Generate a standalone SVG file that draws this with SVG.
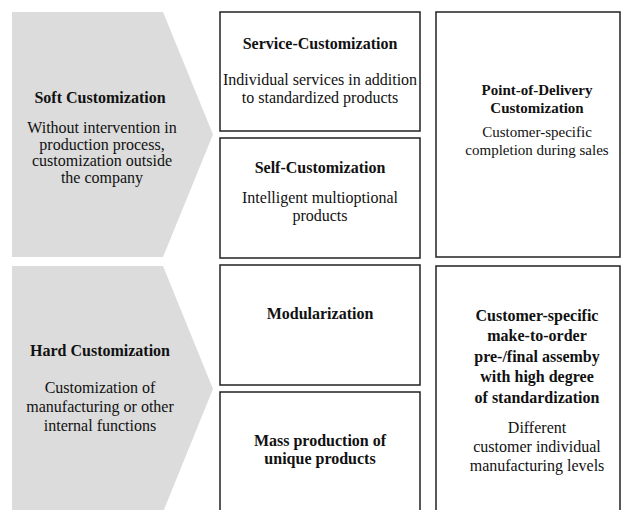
<svg xmlns="http://www.w3.org/2000/svg" width="621" height="510" viewBox="0 0 621 510">
<style>
.chev{fill:#dcdcdc;stroke:none}
.box{fill:#ffffff;stroke:#222222;stroke-width:1.5}
text{font-family:"Liberation Serif","Times New Roman",serif;font-size:16px;fill:#111111;text-anchor:middle}
.b{font-weight:bold}
.s{font-size:15px}
</style>
<g id="soft">
<polygon class="chev" points="12,12 163,12 213,134.5 163,257 12,257"/>
<text class="b" x="100" y="103">Soft Customization</text>
<text x="102" y="133">Without intervention in</text>
<text x="102" y="149.5">production process,</text>
<text x="102" y="166">customization outside</text>
<text x="102" y="182.5">the company</text>
</g>
<g id="hard">
<polygon class="chev" points="12,266 163,266 213,389 163,512 12,512"/>
<text class="b" x="100" y="356">Hard Customization</text>
<text x="100" y="393">Customization of</text>
<text x="100" y="412">manufacturing or other</text>
<text x="100" y="431">internal functions</text>
</g>
<g id="service">
<rect class="box" x="220" y="12" width="200" height="119"/>
<text class="b" x="320" y="49">Service-Customization</text>
<text x="320" y="84.5">Individual services in addition</text>
<text x="320" y="102.5">to standardized products</text>
</g>
<g id="self">
<rect class="box" x="220" y="138" width="200" height="120"/>
<text class="b" x="320" y="172.5">Self-Customization</text>
<text x="320" y="202.5">Intelligent multioptional</text>
<text x="320" y="220.5">products</text>
</g>
<g id="pod">
<rect class="box" x="436" y="12" width="184" height="245"/>
<text class="b s" x="537" y="95">Point-of-Delivery</text>
<text class="b s" x="537" y="113">Customization</text>
<text class="s" x="537" y="137">Customer-specific</text>
<text class="s" x="537" y="155">completion during sales</text>
</g>
<g id="modular">
<rect class="box" x="220" y="265" width="200" height="120"/>
<text class="b" x="320" y="318.5">Modularization</text>
</g>
<g id="mass">
<rect class="box" x="220" y="392" width="200" height="124"/>
<text class="b" x="320" y="445.5">Mass production of</text>
<text class="b" x="320" y="463.5">unique products</text>
</g>
<g id="mto">
<rect class="box" x="436" y="266" width="184" height="250"/>
<text class="b" x="537" y="320.5">Customer-specific</text>
<text class="b" x="537" y="341">make-to-order</text>
<text class="b" x="537" y="361.5">pre-/final assemby</text>
<text class="b" x="537" y="382">with high degree</text>
<text class="b" x="537" y="402.5">of standardization</text>
<text x="537" y="432.5">Different</text>
<text x="537" y="452">customer individual</text>
<text x="537" y="471">manufacturing levels</text>
</g>
<g id="connectors"></g>
</svg>
